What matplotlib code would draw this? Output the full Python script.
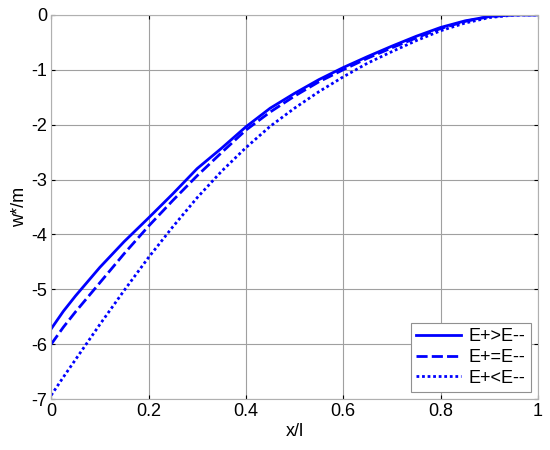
import numpy as np
import matplotlib
matplotlib.use("Agg")
from matplotlib import pyplot as plt

plt.rcParams["font.family"] = ["Liberation Sans", "DejaVu Sans"]
plt.rcParams["axes.unicode_minus"] = False

# values
x = [0, 0.025, 0.05, 0.1, 0.15, 0.2, 0.25, 0.3, 0.35, 0.4, 0.45, 0.5,
     0.55, 0.6, 0.65, 0.7, 0.75, 0.8, 0.85, 0.9, 0.95, 1.0]
w_gt = [-5.72, -5.4, -5.12, -4.6, -4.13, -3.7, -3.26, -2.8, -2.43, -2.04, -1.7, -1.43,
        -1.18, -0.96, -0.76, -0.57, -0.39, -0.23, -0.11, -0.03, 0.0, 0.0]
w_eq = [-6.0, -5.69, -5.41, -4.88, -4.35, -3.85, -3.38, -2.93, -2.51, -2.1, -1.77, -1.48,
        -1.22, -1.0, -0.79, -0.6, -0.42, -0.25, -0.12, -0.03, 0.0, 0.0]
w_lt = [-6.93, -6.6, -6.28, -5.64, -5.02, -4.42, -3.86, -3.33, -2.85, -2.42, -2.03, -1.7,
        -1.4, -1.13, -0.88, -0.67, -0.47, -0.29, -0.15, -0.05, -0.005, 0.0]
labels = ["E+>E--", "E+=E--", "E+<E--"]

fig = plt.figure(figsize=(5.5, 4.5), dpi=100)
ax = fig.add_axes([0.093, 0.113, 0.885, 0.854])

ax.plot(x, w_gt, color="blue", linestyle="-", linewidth=2, label=labels[0])
ax.plot(x, w_eq, color="blue", linestyle=(0, (4, 1.5)), linewidth=2, label=labels[1])
ax.plot(x, w_lt, color="blue", linestyle=(0, (1, 1)), linewidth=2, label=labels[2])

ax.set_xlim(0, 1)
ax.set_ylim(-7, 0)
ax.set_xticks([0, 0.2, 0.4, 0.6, 0.8, 1])
ax.set_xticklabels(["0", "0.2", "0.4", "0.6", "0.8", "1"])
ax.set_yticks(range(-7, 1))
ax.grid(True, color="#a0a0a0", linewidth=0.8)
ax.tick_params(direction="in", length=3, top=True, right=True, labelsize=13, pad=3)
for s in ax.spines.values():
    s.set_color("#b0b0b0")

ax.set_xlabel("x/l", fontsize=13, labelpad=2)
ax.set_ylabel("w*/m", fontsize=13, labelpad=2)

leg = ax.legend(loc="lower right", fontsize=13, fancybox=False, framealpha=1,
                edgecolor="#909090", handlelength=2.5, borderaxespad=0.4,
                labelspacing=0.2, handletextpad=0.4, borderpad=0.3)
leg.get_frame().set_linewidth(0.8)

fig.savefig("out.png", dpi=100)
